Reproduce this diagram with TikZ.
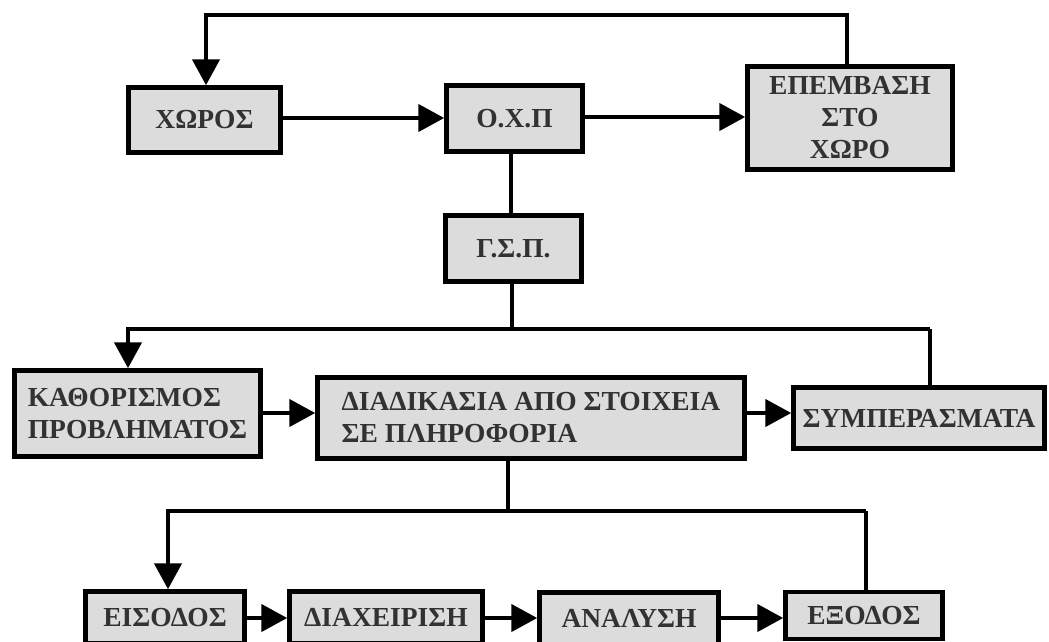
\documentclass[tikz,border=0pt]{standalone}
\usepackage{fontspec}
\setmainfont{Liberation Serif}
\usetikzlibrary{arrows.meta,calc}
\definecolor{boxfill}{RGB}{220,220,220}
\definecolor{boxtext}{RGB}{50,50,50}
\tikzset{
  blk/.style={draw=black, line width=4.5pt, fill=boxfill, text=boxtext, inner sep=0pt,
    font={\fontsize{27.5}{32}\selectfont\bfseries}},
  conn/.style={line width=4.5pt, draw=black},
  arr/.style={conn, -{Triangle[length=26pt,width=27pt]}}
}
\begin{document}
\begin{tikzpicture}[x=1pt,y=-1pt]
\useasboundingbox (0,0) rectangle (1049,641);
\fill[white] (0,0) rectangle (1049,641);
% boxes
\node[blk, minimum width=152pt, minimum height=65pt] (xoros) at (204.5,120) {ΧΩΡΟΣ};
\node[blk, minimum width=136pt, minimum height=66pt] (oxp) at (514.5,118.5) {Ο.Χ.Π};
\node[blk, minimum width=205pt, minimum height=103pt, align=center] (epemv) at (850,118) {ΕΠΕΜΒΑΣΗ\\ΣΤΟ\\ΧΩΡΟ};
\node[blk, minimum width=136pt, minimum height=66pt] (gsp) at (513.5,248.5) {Γ.Σ.Π.};
\node[blk, minimum width=246pt, minimum height=86pt, align=left] (kath) at (137.5,413.5) {ΚΑΘΟΡΙΣΜΟΣ\\ΠΡΟΒΛΗΜΑΤΟΣ};
\node[blk, minimum width=427pt, minimum height=81pt, align=left] (diad) at (531,418) {ΔΙΑΔΙΚΑΣΙΑ ΑΠΟ ΣΤΟΙΧΕΙΑ\\ΣΕ ΠΛΗΡΟΦΟΡΙΑ};
\node[blk, minimum width=251pt, minimum height=61pt] (symp) at (919,418) {ΣΥΜΠΕΡΑΣΜΑΤΑ};
\node[blk, minimum width=159pt, minimum height=52pt] (eis) at (165,617.5) {ΕΙΣΟΔΟΣ};
\node[blk, minimum width=193pt, minimum height=52pt] (diax) at (386,617.5) {ΔΙΑΧΕΙΡΙΣΗ};
\node[blk, minimum width=179pt, minimum height=52pt] (anal) at (629,618.5) {ΑΝΑΛΥΣΗ};
\node[blk, minimum width=157pt, minimum height=47pt] (exod) at (864,615.5) {ΕΞΟΔΟΣ};
% junction coordinates
\coordinate (t1) at (847,15);
\coordinate (t2) at (206,15);
\coordinate (j1) at (512,329);
\coordinate (j1l) at (128,329);
\coordinate (j1r) at (930,329);
\coordinate (j2) at (508,511);
\coordinate (j2l) at (168,511);
\coordinate (j2r) at (866,511);
% connectors
\draw[arr] (t1 |- epemv.north) -- (t1) -- (t2) -- (t2 |- xoros.north);
\draw[arr] (xoros.east |- 0,118) -- (oxp.west |- 0,118);
\draw[arr] (oxp.east |- 0,117) -- (epemv.west |- 0,117);
\draw[conn] (oxp.south -| 511,0) -- (gsp.north -| 511,0);
\draw[conn] (gsp.south -| j1) -- (j1);
\draw[arr] (j1r) -- (j1l) -- (j1l |- kath.north);
\draw[conn] (j1r) -- (j1r |- symp.north);
\draw[arr] (kath.east |- 0,413) -- (diad.west |- 0,413);
\draw[arr] (diad.east |- 0,413) -- (symp.west |- 0,413);
\draw[conn] (diad.south -| j2) -- (j2);
\draw[arr] (j2r) -- (j2l) -- (j2l |- eis.north);
\draw[conn] (j2r) -- (j2r |- exod.north);
\draw[arr] (eis.east |- 0,618) -- (diax.west |- 0,618);
\draw[arr] (diax.east |- 0,618) -- (anal.west |- 0,618);
\draw[arr] (anal.east |- 0,618) -- (exod.west |- 0,618);
\end{tikzpicture}
\end{document}
